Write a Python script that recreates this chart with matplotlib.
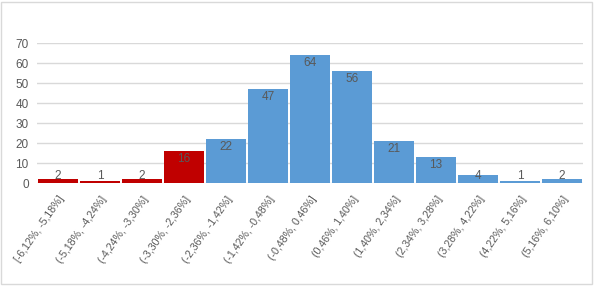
import numpy as np
import matplotlib.pyplot as plt
from matplotlib.patches import Rectangle

# histogram bins and counts
bins = ['[-6,12%, -5,18%]', '(-5,18%, -4,24%]', '(-4,24%, -3,30%]', '(-3,30%, -2,36%]',
        '(-2,36%, -1,42%]', '(-1,42%, -0,48%]', '(-0,48%, 0,46%]', '(0,46%, 1,40%]',
        '(1,40%, 2,34%]', '(2,34%, 3,28%]', '(3,28%, 4,22%]', '(4,22%, 5,16%]',
        '(5,16%, 6,10%]']
counts = [2, 1, 2, 16, 22, 47, 64, 56, 21, 13, 4, 1, 2]
n_red = 4  # first bins highlighted

plt.rcParams['font.family'] = ['Liberation Sans', 'DejaVu Sans']

fig = plt.figure(figsize=(5.97, 2.86), dpi=100)
ax = fig.add_axes([37 / 597, 1 - 183 / 286, 546 / 597, 140 / 286])

x = np.arange(len(bins))
colors = ['#C00000' if i < n_red else '#5B9BD5' for i in range(len(bins))]
ax.bar(x, counts, width=0.955, color=colors, linewidth=0, zorder=2)

for xi, v in zip(x, counts):
    ax.text(xi, max(v - 4, 3.3), str(v), ha='center', va='center',
            fontsize=8.5, color='#595959', zorder=3)

ax.set_xlim(-0.5, len(bins) - 0.5)
ax.set_ylim(0, 70)
ax.set_yticks(range(0, 71, 10))
ax.yaxis.grid(True, color='#D9D9D9', linewidth=1, zorder=0)
ax.set_axisbelow(True)
for s in ['top', 'right', 'left', 'bottom']:
    ax.spines[s].set_visible(False)
ax.tick_params(axis='both', length=0, labelsize=8.5, colors='#595959')
ax.tick_params(axis='y', pad=6)

ax.set_xticks(x)
ax.set_xticklabels(bins, rotation=55, ha='right', va='top', rotation_mode='anchor',
                   fontsize=7.7)
ax.tick_params(axis='x', pad=8)

# chart border
fig.patches.append(Rectangle((1 / 597, 2 / 286), 591 / 597, 282 / 286, transform=fig.transFigure,
                             fill=False, edgecolor='#D9D9D9', linewidth=1))

fig.savefig('out.png', dpi=100)
